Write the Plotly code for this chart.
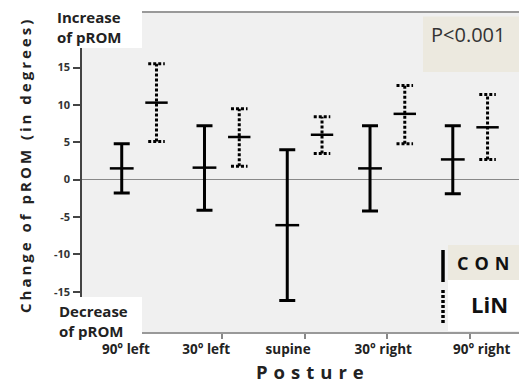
import plotly.graph_objects as go

# ---- data ----
postures = ["90° left", "30° left", "supine", "30° right", "90° right"]
con_mean = [1.5, 1.6, -6.1, 1.5, 2.7]
con_upper = [4.8, 7.2, 4.0, 7.2, 7.2]
con_lower = [-1.8, -4.1, -16.2, -4.2, -1.9]
lin_mean = [10.3, 5.7, 6.0, 8.8, 7.0]
lin_upper = [15.5, 9.5, 8.4, 12.6, 11.4]
lin_lower = [5.1, 1.8, 3.5, 4.8, 2.7]
label_pos = [-0.16, 0.81, 1.8, 2.95, 4.14]
y_ticks = [15, 10, 5, 0, -5, -10, -15]

OFF = 0.21
CAP = 0.1
FONT = "Open Sans"

x_idx = list(range(len(postures)))
x_con = [i - OFF for i in x_idx]
x_lin = [i + OFF for i in x_idx]

fig = go.Figure()

# CON: solid error bars
fig.add_trace(go.Scatter(
    x=x_con, y=con_mean, mode="markers",
    marker=dict(symbol="line-ew", size=17, color="black",
                line=dict(color="black", width=2.5)),
    error_y=dict(type="data", symmetric=False,
                 array=[u - m for u, m in zip(con_upper, con_mean)],
                 arrayminus=[m - l for m, l in zip(con_mean, con_lower)],
                 color="black", thickness=3, width=8),
    showlegend=False, hoverinfo="skip"))

# LiN: dotted error bars
vx, vy, cx, cy = [], [], [], []
for x, lo, hi in zip(x_lin, lin_lower, lin_upper):
    vx += [x, x, None]
    vy += [lo, hi, None]
    cx += [x - CAP, x + CAP, None, x - CAP, x + CAP, None]
    cy += [lo, lo, None, hi, hi, None]
fig.add_trace(go.Scatter(x=vx, y=vy, mode="lines",
                         line=dict(color="black", width=3, dash="3px,2px"),
                         showlegend=False, hoverinfo="skip"))
fig.add_trace(go.Scatter(x=cx, y=cy, mode="lines",
                         line=dict(color="black", width=3, dash="3px,2px"),
                         showlegend=False, hoverinfo="skip"))
fig.add_trace(go.Scatter(
    x=x_lin, y=lin_mean, mode="markers",
    marker=dict(symbol="line-ew", size=16, color="black",
                line=dict(color="black", width=2.5)),
    showlegend=False, hoverinfo="skip"))

# invisible trace for label axis
fig.add_trace(go.Scatter(x=label_pos, y=[0] * len(label_pos), xaxis="x2",
                         mode="markers", marker=dict(opacity=0),
                         showlegend=False, hoverinfo="skip"))

XR = [-0.69, 4.59]
fig.update_layout(
    width=519, height=385,
    margin=dict(l=82, r=0, t=13, b=53),
    paper_bgcolor="white", plot_bgcolor="#f0f0f0",
    font=dict(family=FONT, color="#222"),
    xaxis=dict(range=XR, tickvals=x_idx, showticklabels=False,
               ticks="outside", ticklen=5, tickcolor="#888", tickwidth=1.5,
               showline=True, linecolor="#999", linewidth=1.5, mirror=True,
               showgrid=False, zeroline=False),
    xaxis2=dict(range=XR, overlaying="x", anchor="y", side="bottom",
                tickvals=label_pos, ticktext=postures, ticks="",
                ticklabelstandoff=7,
                tickfont=dict(family=FONT, size=13.5, weight="bold", color="#222"),
                showline=False, showgrid=False, zeroline=False),
    yaxis=dict(range=[-20.4, 22.3], tickvals=y_ticks,
               ticktext=[str(v) for v in y_ticks],
               ticks="outside", ticklen=7, tickcolor="#444", tickwidth=1.5,
               tickfont=dict(family=FONT, size=11, weight="bold", color="#333"),
               ticklabelstandoff=1,
               showline=True, linecolor="#444", linewidth=1.5,
               showgrid=False, zeroline=True, zerolinecolor="#888",
               zerolinewidth=1.3),
)


def px_x(p):
    return (p - 82) / 437.0


def px_y(p):
    return (332 - p) / 319.0


shapes = [
    # Increase box
    dict(type="rect", xref="paper", yref="paper", layer="above",
         x0=px_x(48), x1=px_x(142), y0=px_y(48), y1=px_y(-2),
         fillcolor="white", line=dict(width=0)),
    # Decrease box
    dict(type="rect", xref="paper", yref="paper", layer="above",
         x0=px_x(48), x1=px_x(142), y0=px_y(339), y1=px_y(297),
         fillcolor="white", line=dict(width=0)),
    # P box
    dict(type="rect", xref="paper", yref="paper", layer="above",
         x0=px_x(423), x1=px_x(520), y0=px_y(72), y1=px_y(16.5),
         fillcolor="#ece9df", line=dict(width=0)),
    # legend boxes
    dict(type="rect", xref="paper", yref="paper", layer="above",
         x0=px_x(448), x1=px_x(520), y0=px_y(280), y1=px_y(245),
         fillcolor="#ece9df", line=dict(width=0)),
    dict(type="rect", xref="paper", yref="paper", layer="above",
         x0=px_x(448), x1=px_x(520), y0=px_y(331), y1=px_y(280),
         fillcolor="white", line=dict(width=0)),
    # legend lines
    dict(type="line", xref="paper", yref="paper", layer="above",
         x0=px_x(443), x1=px_x(443), y0=px_y(282), y1=px_y(250),
         line=dict(color="black", width=3.5)),
    dict(type="line", xref="paper", yref="paper", layer="above",
         x0=px_x(443), x1=px_x(443), y0=px_y(323), y1=px_y(288),
         line=dict(color="black", width=3.5, dash="3px,2px")),
]
fig.update_layout(shapes=shapes)

ann = [
    dict(text="Increase<br>of pROM", x=px_x(55), y=px_y(27.5), xanchor="left",
         yanchor="middle", align="left",
         font=dict(family=FONT, size=15, weight="bold", color="#222")),
    dict(text="Decrease<br>of pROM", x=px_x(57), y=px_y(320.5), xanchor="left",
         yanchor="middle", align="left",
         font=dict(family=FONT, size=15, weight="bold", color="#222")),
    dict(text="P<0.001", x=px_x(467.5), y=px_y(34), xanchor="center",
         yanchor="middle", font=dict(family=FONT, size=20, color="#333")),
    dict(text="<span style='letter-spacing:6px'>CON</span>", x=px_x(486), y=px_y(263),
         xanchor="center", yanchor="middle",
         font=dict(family=FONT, size=18, weight="bold", color="#111")),
    dict(text="LiN", x=px_x(489.5), y=px_y(304), xanchor="center",
         yanchor="middle",
         font=dict(family=FONT, size=22, weight="bold", color="#111")),
    dict(text="<span style='letter-spacing:3px'>Change of pROM (in degrees)</span>",
         x=px_x(25), y=px_y(165), xanchor="center", yanchor="middle",
         textangle=-90,
         font=dict(family=FONT, size=15, weight="bold", color="#222")),
    dict(text="<span style='letter-spacing:6px'>Posture</span>",
         x=px_x(313), y=px_y(371), xanchor="center", yanchor="middle",
         font=dict(family=FONT, size=18.5, weight="bold", color="#222")),
]
for a in ann:
    a.update(xref="paper", yref="paper", showarrow=False)
fig.update_layout(annotations=ann)

fig.write_html("out.html", config={"displayModeBar": False},
               post_script="document.body.style.margin='0';document.body.style.overflow='hidden';")
